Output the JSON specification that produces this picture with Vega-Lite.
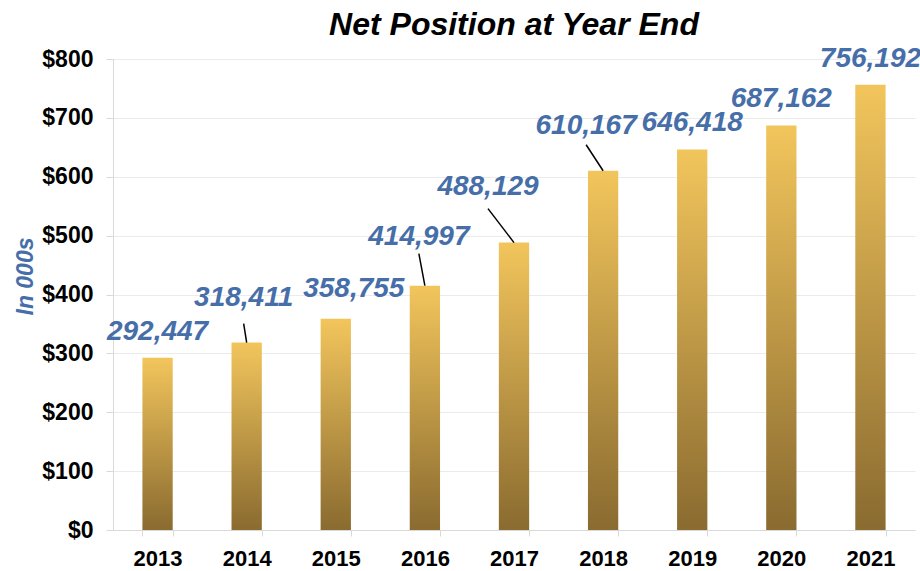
{
  "$schema": "https://vega.github.io/schema/vega-lite/v6.json",
  "width": 802,
  "height": 471,
  "autosize": {"type": "none"},
  "padding": {"left": 113, "top": 59, "right": 5, "bottom": 41},
  "background": "white",
  "title": {
    "text": "Net Position at Year End",
    "font": "Liberation Sans",
    "fontSize": 32,
    "fontWeight": "bold",
    "fontStyle": "italic",
    "color": "#000000",
    "anchor": "middle",
    "offset": 3
  },
  "config": {"view": {"stroke": null}},
  "data": {
    "values": [
      {"year": "2013", "value": 292.447, "label": "292,447"},
      {"year": "2014", "value": 318.411, "label": "318,411"},
      {"year": "2015", "value": 358.755, "label": "358,755"},
      {"year": "2016", "value": 414.997, "label": "414,997"},
      {"year": "2017", "value": 488.129, "label": "488,129"},
      {"year": "2018", "value": 610.167, "label": "610,167"},
      {"year": "2019", "value": 646.418, "label": "646,418"},
      {"year": "2020", "value": 687.162, "label": "687,162"},
      {"year": "2021", "value": 756.192, "label": "756,192"}
    ]
  },
  "encoding": {
    "x": {
      "field": "year",
      "type": "ordinal",
      "scale": {"paddingInner": 0.66, "paddingOuter": 0.33},
      "axis": {
        "title": null,
        "labelAngle": 0,
        "labelFont": "Liberation Sans",
        "labelFontSize": 22,
        "labelFontWeight": "bold",
        "labelColor": "#000000",
        "labelPadding": 12,
        "tickBand": "extent",
        "tickSize": 6,
        "tickColor": "#D9D9D9",
        "domainColor": "#D9D9D9",
        "grid": false
      }
    },
    "y": {
      "field": "value",
      "type": "quantitative",
      "scale": {"domain": [0, 800], "nice": false},
      "axis": {
        "values": [0, 100, 200, 300, 400, 500, 600, 700, 800],
        "labelExpr": "'$' + datum.value",
        "labelFont": "Liberation Sans",
        "labelFontSize": 23,
        "labelFontWeight": "bold",
        "labelColor": "#000000",
        "labelPadding": 13,
        "tickSize": 7,
        "tickColor": "#D9D9D9",
        "domainColor": "#D9D9D9",
        "gridColor": "#EBEBEB",
        "title": "In 000s",
        "titleFont": "Liberation Sans",
        "titleFontSize": 23,
        "titleFontWeight": "bold",
        "titleFontStyle": "italic",
        "titleColor": "#466EA8",
        "titleAngle": 270,
        "titleAlign": "center",
        "titleBaseline": "middle",
        "titleX": -88,
        "titleY": 217
      }
    }
  },
  "layer": [
    {
      "mark": {
        "type": "bar",
        "fill": {
          "gradient": "linear",
          "x1": 0, "y1": 0, "x2": 0, "y2": 1,
          "stops": [
            {"offset": 0, "color": "#F2C55C"},
            {"offset": 1, "color": "#8A6B30"}
          ]
        }
      }
    },
    {
      "transform": [{"filter": "datum.year == '2014'"}],
      "mark": {"type": "rule", "color": "#000000", "strokeWidth": 1.5, "x2Offset": -3, "y2Offset": -19},
      "encoding": {"x2": {"field": "year"}, "y2": {"field": "value"}}
    },
    {
      "transform": [{"filter": "datum.year == '2016'"}],
      "mark": {"type": "rule", "color": "#000000", "strokeWidth": 1.5, "x2Offset": -6, "y2Offset": -32},
      "encoding": {"x2": {"field": "year"}, "y2": {"field": "value"}}
    },
    {
      "transform": [{"filter": "datum.year == '2017'"}],
      "mark": {"type": "rule", "color": "#000000", "strokeWidth": 1.5, "x2Offset": -26, "y2Offset": -34},
      "encoding": {"x2": {"field": "year"}, "y2": {"field": "value"}}
    },
    {
      "transform": [{"filter": "datum.year == '2018'"}],
      "mark": {"type": "rule", "color": "#000000", "strokeWidth": 1.5, "x2Offset": -17, "y2Offset": -26},
      "encoding": {"x2": {"field": "year"}, "y2": {"field": "value"}}
    },
    {
      "transform": [{"filter": "indexof(['2013','2019','2020','2021'], datum.year) >= 0"}],
      "mark": {"type": "text", "font": "Liberation Sans", "fontSize": 28, "fontWeight": "bold", "fontStyle": "italic", "color": "#466EA8", "align": "center", "baseline": "middle", "dy": -26},
      "encoding": {"text": {"field": "label"}}
    },
    {
      "transform": [{"filter": "datum.year == '2014'"}],
      "mark": {"type": "text", "font": "Liberation Sans", "fontSize": 28, "fontWeight": "bold", "fontStyle": "italic", "color": "#466EA8", "align": "center", "baseline": "middle", "dx": -3, "dy": -45},
      "encoding": {"text": {"field": "label"}}
    },
    {
      "transform": [{"filter": "datum.year == '2015'"}],
      "mark": {"type": "text", "font": "Liberation Sans", "fontSize": 28, "fontWeight": "bold", "fontStyle": "italic", "color": "#466EA8", "align": "center", "baseline": "middle", "dx": 18, "dy": -30},
      "encoding": {"text": {"field": "label"}}
    },
    {
      "transform": [{"filter": "datum.year == '2016'"}],
      "mark": {"type": "text", "font": "Liberation Sans", "fontSize": 28, "fontWeight": "bold", "fontStyle": "italic", "color": "#466EA8", "align": "center", "baseline": "middle", "dx": -6, "dy": -49},
      "encoding": {"text": {"field": "label"}}
    },
    {
      "transform": [{"filter": "datum.year == '2017'"}],
      "mark": {"type": "text", "font": "Liberation Sans", "fontSize": 28, "fontWeight": "bold", "fontStyle": "italic", "color": "#466EA8", "align": "center", "baseline": "middle", "dx": -26, "dy": -56},
      "encoding": {"text": {"field": "label"}}
    },
    {
      "transform": [{"filter": "datum.year == '2018'"}],
      "mark": {"type": "text", "font": "Liberation Sans", "fontSize": 28, "fontWeight": "bold", "fontStyle": "italic", "color": "#466EA8", "align": "center", "baseline": "middle", "dx": -17, "dy": -45},
      "encoding": {"text": {"field": "label"}}
    }
  ]
}
